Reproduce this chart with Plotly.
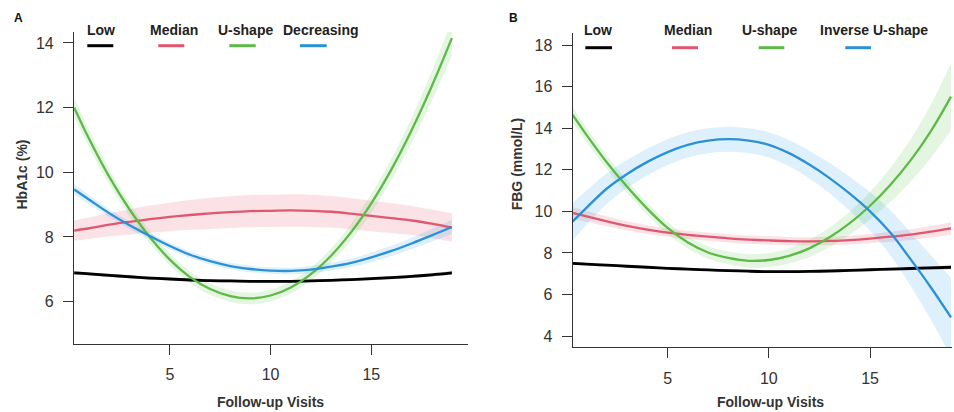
import plotly.graph_objects as go

W, H = 954, 412

# ---------------- data ----------------
visits_a = [0.25, 1, 2, 3, 4, 5, 6, 7, 8, 9, 10, 11, 12, 13, 14, 15, 16, 17, 18, 19]
visits_b = [0.3, 1, 2, 3, 4, 5, 6, 7, 8, 9, 10, 11, 12, 13, 14, 15, 16, 17, 18, 19]

# Panel A: HbA1c (%)
hba1c_low = [6.89, 6.86, 6.81, 6.77, 6.73, 6.70, 6.67, 6.65, 6.64, 6.63,
             6.63, 6.63, 6.64, 6.66, 6.68, 6.71, 6.74, 6.78, 6.83, 6.89]
hba1c_low_ci = [0.06, 0.05, 0.05, 0.05, 0.05, 0.04, 0.04, 0.04, 0.04, 0.04,
                0.04, 0.04, 0.04, 0.04, 0.04, 0.05, 0.05, 0.05, 0.05, 0.06]
hba1c_median = [8.20, 8.27, 8.38, 8.47, 8.55, 8.62, 8.68, 8.73, 8.77, 8.80,
                8.81, 8.82, 8.81, 8.78, 8.72, 8.65, 8.58, 8.51, 8.41, 8.29]
hba1c_median_ci = [0.31, 0.33, 0.36, 0.39, 0.42, 0.44, 0.46, 0.48, 0.49, 0.50,
                   0.50, 0.50, 0.50, 0.49, 0.48, 0.47, 0.46, 0.45, 0.44, 0.44]
hba1c_ushape = [12.00, 11.02, 9.85, 8.85, 8.00, 7.30, 6.76, 6.39, 6.17, 6.10,
                6.19, 6.44, 6.85, 7.42, 8.15, 9.04, 10.09, 11.30, 12.66, 14.15]
hba1c_ushape_ci = [0.30, 0.27, 0.24, 0.21, 0.19, 0.18, 0.18, 0.18, 0.18, 0.18,
                   0.18, 0.19, 0.20, 0.22, 0.25, 0.29, 0.33, 0.39, 0.46, 0.55]
hba1c_decreasing = [9.47, 9.15, 8.73, 8.36, 8.03, 7.72, 7.45, 7.25, 7.10, 7.01,
                    6.96, 6.95, 6.99, 7.08, 7.20, 7.37, 7.57, 7.80, 8.05, 8.31]
hba1c_decreasing_ci = [0.16, 0.14, 0.12, 0.11, 0.10, 0.10, 0.10, 0.10, 0.10, 0.10,
                       0.10, 0.10, 0.11, 0.12, 0.13, 0.15, 0.16, 0.18, 0.20, 0.22]

# Panel B: FBG (mmol/L)
fbg_low = [7.50, 7.46, 7.41, 7.36, 7.31, 7.26, 7.22, 7.18, 7.15, 7.12,
           7.10, 7.10, 7.11, 7.13, 7.16, 7.19, 7.22, 7.25, 7.28, 7.31]
fbg_low_ci = [0.07, 0.06, 0.06, 0.05, 0.05, 0.05, 0.05, 0.05, 0.05, 0.05,
              0.05, 0.05, 0.05, 0.05, 0.06, 0.06, 0.07, 0.07, 0.08, 0.09]
fbg_median = [9.93, 9.76, 9.52, 9.30, 9.12, 8.98, 8.87, 8.78, 8.70, 8.64,
              8.60, 8.57, 8.56, 8.58, 8.62, 8.69, 8.78, 8.88, 9.02, 9.18]
fbg_median_ci = [0.28, 0.26, 0.24, 0.22, 0.21, 0.20, 0.20, 0.20, 0.20, 0.20,
                 0.20, 0.20, 0.20, 0.20, 0.21, 0.22, 0.24, 0.26, 0.28, 0.30]
fbg_ushape = [14.65, 13.67, 12.35, 11.18, 10.12, 9.20, 8.50, 8.02, 7.76, 7.62,
              7.66, 7.86, 8.22, 8.75, 9.43, 10.27, 11.27, 12.45, 13.85, 15.52]
fbg_ushape_ci = [0.38, 0.35, 0.32, 0.30, 0.29, 0.29, 0.29, 0.30, 0.31, 0.32,
                 0.34, 0.37, 0.41, 0.47, 0.55, 0.66, 0.82, 1.02, 1.28, 1.62]
fbg_inverse = [9.50, 10.18, 11.10, 11.80, 12.38, 12.85, 13.20, 13.40, 13.47, 13.40,
               13.20, 12.80, 12.25, 11.60, 10.85, 10.00, 8.98, 7.70, 6.35, 4.90]
fbg_inverse_ci = [0.90, 0.82, 0.74, 0.68, 0.64, 0.62, 0.61, 0.60, 0.60, 0.60,
                  0.61, 0.63, 0.67, 0.73, 0.82, 0.93, 1.08, 1.28, 1.55, 1.90]

ticks_x = [5, 10, 15]
ticks_y_a = [6, 8, 10, 12, 14]
ticks_y_b = [4, 6, 8, 10, 12, 14, 16, 18]

labels_a = ["Low", "Median", "U-shape", "Decreasing"]
labels_b = ["Low", "Median", "U-shape", "Inverse U-shape"]

# ---------------- styling ----------------
COLORS = ["#000000", "#DF5870", "#5DBA47", "#2B91D6"]
BANDS = ["rgba(0,0,0,0.22)", "rgba(223,83,107,0.17)",
         "rgba(97,200,79,0.17)", "rgba(34,151,230,0.15)"]
FONT = "Liberation Sans, Arial, Helvetica, sans-serif"
AX = "#333333"


def px(x):
    return x / W


def py(y):
    return 1 - y / H


fig = go.Figure()

panels = [
    ("x", "y", visits_a,
     [(hba1c_low, hba1c_low_ci), (hba1c_median, hba1c_median_ci),
      (hba1c_ushape, hba1c_ushape_ci), (hba1c_decreasing, hba1c_decreasing_ci)]),
    ("x2", "y2", visits_b,
     [(fbg_low, fbg_low_ci), (fbg_median, fbg_median_ci),
      (fbg_ushape, fbg_ushape_ci), (fbg_inverse, fbg_inverse_ci)]),
]

for xa, ya, xs, series in panels:
    # confidence bands first
    for i, (vals, ci) in enumerate(series):
        upper = [v + c for v, c in zip(vals, ci)]
        lower = [v - c for v, c in zip(vals, ci)]
        fig.add_trace(go.Scatter(x=xs, y=upper, mode="lines", line=dict(width=0, shape="spline"),
                                 xaxis=xa, yaxis=ya, showlegend=False, hoverinfo="skip"))
        fig.add_trace(go.Scatter(x=xs, y=lower, mode="lines", line=dict(width=0, shape="spline"),
                                 fill="tonexty", fillcolor=BANDS[i],
                                 xaxis=xa, yaxis=ya, showlegend=False, hoverinfo="skip"))
    # fitted curves on top
    for i, (vals, ci) in enumerate(series):
        fig.add_trace(go.Scatter(x=xs, y=vals, mode="lines",
                                 line=dict(color=COLORS[i], width=2.8 if i == 0 else 2.3, shape="spline"),
                                 xaxis=xa, yaxis=ya, showlegend=False))

axis_common = dict(showline=True, linecolor=AX, linewidth=1.2, ticks="outside", ticklen=10,
                   tickwidth=1.2, tickcolor=AX, showgrid=False, zeroline=False,
                   tickfont=dict(family=FONT, size=16, color="#333333"), ticklabelstandoff=6)

fig.update_layout(
    width=W, height=H, margin=dict(l=0, r=0, t=0, b=0),
    paper_bgcolor="white", plot_bgcolor="white", showlegend=False,
    xaxis=dict(domain=[px(74), px(468)], range=[0.24, 19.8], tickvals=ticks_x,
               anchor="y", **axis_common),
    yaxis=dict(domain=[py(344), py(32)], range=[4.69, 14.34], tickvals=ticks_y_a,
               anchor="x", **axis_common),
    xaxis2=dict(domain=[px(572.7), px(952)], range=[0.31, 19.05], tickvals=ticks_x,
                anchor="y2", **axis_common),
    yaxis2=dict(domain=[py(347.3), py(33)], range=[3.46, 18.58], tickvals=ticks_y_b,
                anchor="x2", **axis_common),
)

ann = []
shapes = []


def text(x, y, s, size=14, angle=0, color="#222222", bold=True):
    ann.append(dict(x=px(x), y=py(y), xref="paper", yref="paper", showarrow=False,
                    text=f"<b>{s}</b>" if bold else s, textangle=angle,
                    font=dict(family=FONT, size=size, color=color),
                    xanchor="center", yanchor="middle"))


# panel letters
text(18, 17.5, "A", size=12, color="#111111")
text(513, 17.5, "B", size=12, color="#111111")

# axis titles
text(270, 402, "Follow-up Visits", color="#333333")
text(770.3, 402, "Follow-up Visits", color="#333333")
text(21.5, 175, "HbA1c (%)", angle=-90, color="#333333")
text(517.3, 164, "FBG (mmol/L)", angle=-90, color="#333333")

# in-plot legends
leg_a_text = [101, 173.7, 245.5, 320.5]
leg_a_line = [(87.3, 113.3), (158.3, 184.3), (229.3, 255.7), (300, 326.7)]
leg_b_text = [598.2, 687.5, 769.2, 873.5]
leg_b_line = [(585.3, 612), (672, 698), (758.7, 784.3), (845.3, 871)]

for labels, tx, ln, ly in [(labels_a, leg_a_text, leg_a_line, 45.7),
                           (labels_b, leg_b_text, leg_b_line, 47.7)]:
    for i, lab in enumerate(labels):
        text(tx[i], 30, lab, size=14, color="#222222")
        shapes.append(dict(type="line", xref="paper", yref="paper",
                           x0=px(ln[i][0]), x1=px(ln[i][1]), y0=py(ly), y1=py(ly),
                           line=dict(color=COLORS[i], width=3)))

fig.update_layout(annotations=ann, shapes=shapes)

fig.write_html(
    "out.html",
    config={"displayModeBar": False},
    post_script="document.body.style.margin='0px';document.body.style.padding='0px';"
                "document.body.style.overflow='hidden';",
)
